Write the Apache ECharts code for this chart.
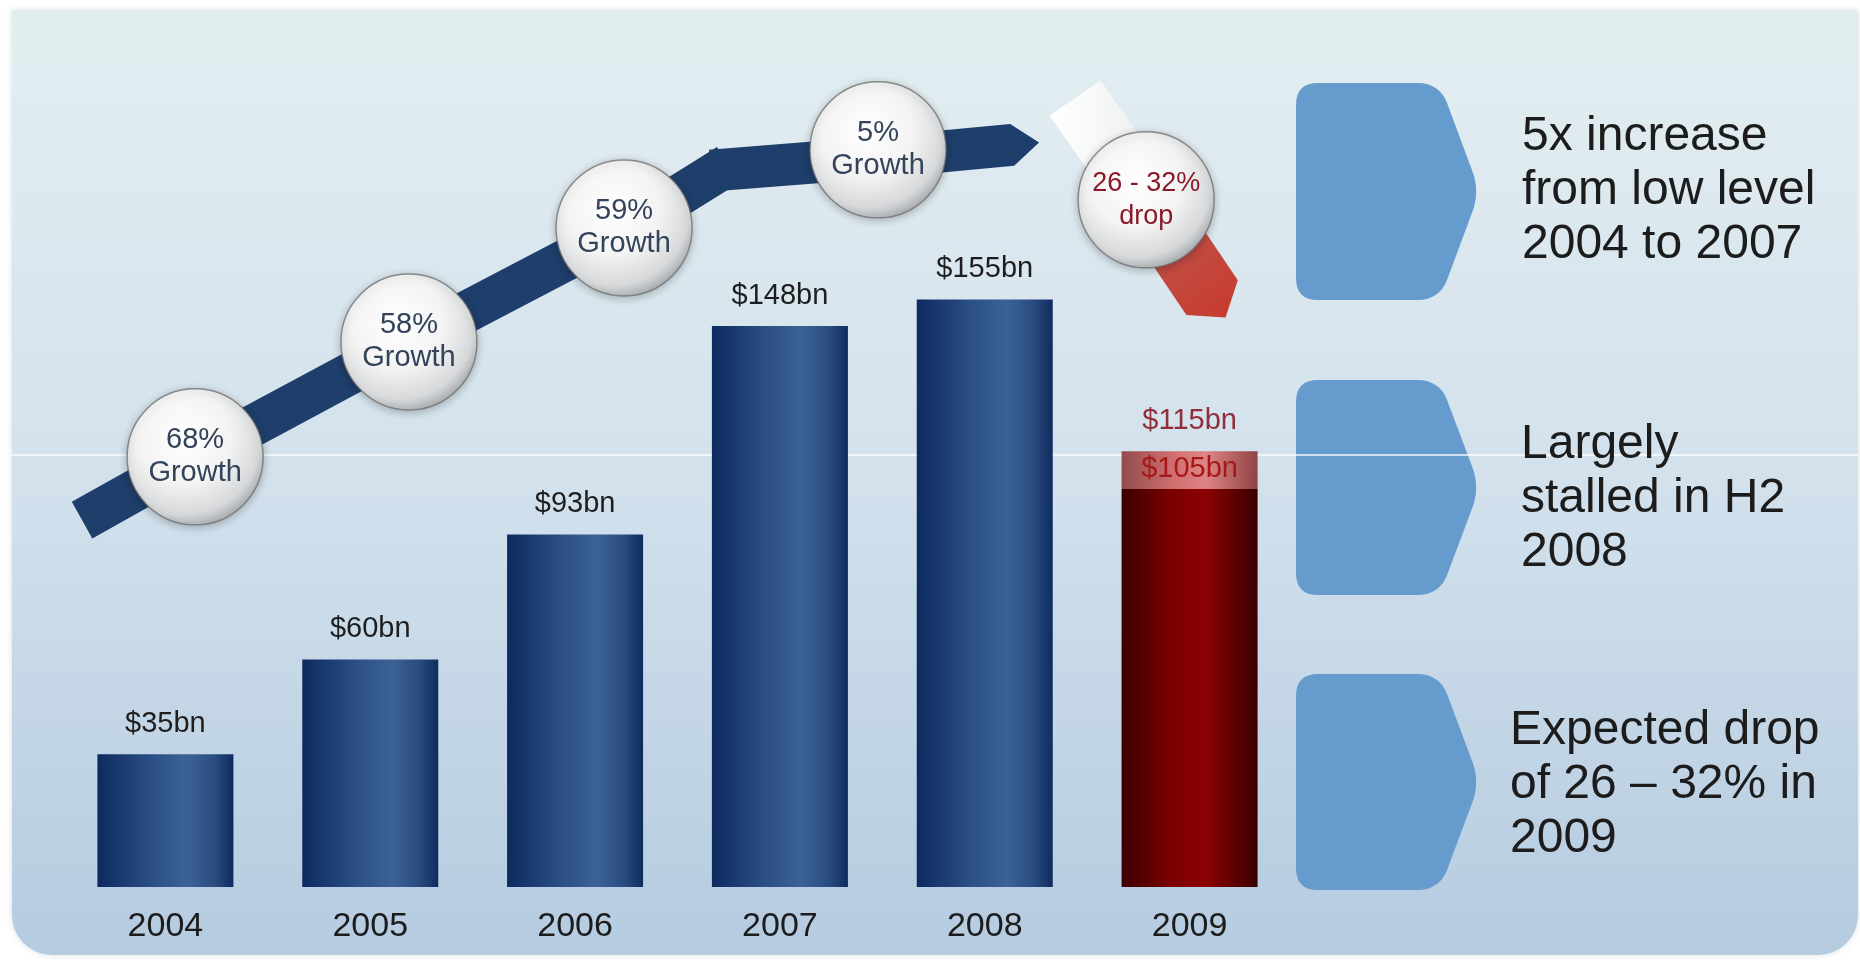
<!DOCTYPE html>
<html>
<head>
<meta charset="utf-8">
<script src="https://cdn.jsdelivr.net/npm/echarts@6/dist/echarts.min.js"></script>
<style>
  html, body { margin: 0; padding: 0; background: #ffffff; }
  #chart { width: 1860px; height: 960px; }
</style>
</head>
<body>
<div id="chart"></div>
<script>
// Annual values, $bn
const years = ['2004', '2005', '2006', '2007', '2008', '2009'];
const actual = [35, 60, 93, 148, 155, null];
const forecastLow = [null, null, null, null, null, 105];
const forecastHigh = [null, null, null, null, null, 115];

// Year-on-year callouts
const growthLabels = ['68%', '58%', '59%', '5%'];
const dropLabel = '26 - 32%';

// Commentary blocks on the right
const notes = [
  ['5x increase', 'from low level', '2004 to 2007'],
  ['Largely', 'stalled in H2', '2008'],
  ['Expected drop', 'of 26 \u2013 32% in', '2009']
];

// ---- layout (overlay axis: x in category-index units, y in $bn) ----
const growthPath = [[-0.407, 96.8], [0.145, 113.5], [1.189, 143.8], [2.244, 173.6],
                    [2.708, 189.2], [3.504, 192.6], [4.134, 195.8]];
const dropPath = [[4.441, 208.2], [4.788, 181.3], [5.11, 155.5]];
const ballAnchors = [[0.145, 113.5], [1.189, 143.8], [2.239, 173.9], [3.479, 194.5], [4.788, 181.3]];

const chart = echarts.init(document.getElementById('chart'));
const FONT = 'Liberation Sans, Arial, sans-serif';
const LG = echarts.graphic.LinearGradient;

const blueFill = new LG(0, 0, 1, 0, [
  { offset: 0, color: '#0d2a5f' }, { offset: 0.4, color: '#2b4f86' },
  { offset: 0.66, color: '#3c6295' }, { offset: 0.86, color: '#2a4c80' },
  { offset: 1, color: '#0e2b5e' }
]);
const darkRedFill = new LG(0, 0, 1, 0, [
  { offset: 0, color: '#3a0000' }, { offset: 0.35, color: '#7a0000' },
  { offset: 0.62, color: '#8c0202' }, { offset: 1, color: '#380000' }
]);
const pinkFill = new LG(0, 0, 1, 0, [
  { offset: 0, color: '#8c3a3a' }, { offset: 0.4, color: '#d26464' },
  { offset: 0.62, color: '#e07a7a' }, { offset: 1, color: '#883232' }
]);

function diff(a, b) { return a == null || b == null ? null : a - b; }

// Thick segmented band through the given points, optional pointed end
function bandChildren(api, path, width, tip, fills) {
  const pts = path.map(p => api.coord(p));
  const h = width / 2;
  const out = [];
  for (let i = 0; i < pts.length - 1; i++) {
    const a = pts[i], b = pts[i + 1];
    const dx = b[0] - a[0], dy = b[1] - a[1], len = Math.hypot(dx, dy);
    const ux = dx / len, uy = dy / len, nx = -uy, ny = ux;
    const last = i === pts.length - 2;
    const a0 = i === 0 ? a : [a[0] - ux * h * 0.45, a[1] - uy * h * 0.45];
    const b0 = last ? b : [b[0] + ux * h * 0.45, b[1] + uy * h * 0.45];
    const poly = [[a0[0] + nx * h, a0[1] + ny * h], [b0[0] + nx * h, b0[1] + ny * h]];
    if (last && tip) poly.push([b0[0] + ux * tip, b0[1] + uy * tip]);
    poly.push([b0[0] - nx * h, b0[1] - ny * h], [a0[0] - nx * h, a0[1] - ny * h]);
    out.push({ type: 'polygon', shape: { points: poly }, style: { fill: fills[Math.min(i, fills.length - 1)] } });
  }
  return out;
}

// Polygon outline with corners rounded by sampled quadratic curves
function roundedPoints(points, r) {
  const n = points.length;
  const out = [];
  for (let i = 0; i < n; i++) {
    const p = points[i], prev = points[(i - 1 + n) % n], next = points[(i + 1) % n];
    const v1 = [prev[0] - p[0], prev[1] - p[1]], l1 = Math.hypot(v1[0], v1[1]);
    const v2 = [next[0] - p[0], next[1] - p[1]], l2 = Math.hypot(v2[0], v2[1]);
    const rr = Math.min(r, l1 / 2, l2 / 2);
    const s = [p[0] + v1[0] / l1 * rr, p[1] + v1[1] / l1 * rr];
    const e = [p[0] + v2[0] / l2 * rr, p[1] + v2[1] / l2 * rr];
    for (let k = 0; k <= 8; k++) {
      const t = k / 8, m = 1 - t;
      out.push([m * m * s[0] + 2 * m * t * p[0] + t * t * e[0], m * m * s[1] + 2 * m * t * p[1] + t * t * e[1]]);
    }
  }
  return out;
}

const panelBoxes = [[1296, 83, 1480, 300], [1296, 380, 1480, 595], [1296, 674, 1480, 890]];
const noteTops = [110, 418, 704];
const noteLeft = [1522, 1521, 1510];

const graphics = [
  {
    type: 'rect', z: 0, silent: true,
    shape: { x: 12, y: 10, width: 1846, height: 945, r: [3, 3, 40, 40] },
    style: {
      fill: new LG(0, 0, 0, 1, [
        { offset: 0, color: '#e0eeee' }, { offset: 0.12, color: '#e0ebf0' },
        { offset: 0.5, color: '#d2e1ec' }, { offset: 1, color: '#b5cbe0' }
      ]),
      shadowBlur: 6, shadowColor: 'rgba(140,160,180,0.35)'
    }
  },
  { type: 'rect', z: 1, silent: true, shape: { x: 12, y: 454, width: 1846, height: 2 },
    style: { fill: 'rgba(255,255,255,0.7)' } }
];
panelBoxes.forEach(([x0, y0, x1, y1]) => {
  const xs = x0 + (x1 - x0) * 0.78, ym = (y0 + y1) / 2;
  graphics.push({
    type: 'polygon', z: 0.5, silent: true,
    shape: { points: roundedPoints([[x0, y0], [xs, y0], [x1, ym], [xs, y1], [x0, y1]], 22) },
    style: { fill: '#669bce' }
  });
});
notes.forEach((lines, i) => {
  graphics.push({
    type: 'text', z: 12, silent: true, x: noteLeft[i], y: noteTops[i],
    style: {
      text: lines.join('\n'), fill: '#1c1c1c', fontSize: 48, fontFamily: FONT,
      lineHeight: 54, verticalAlign: 'top', align: 'left'
    }
  });
});

const ballFill = new echarts.graphic.RadialGradient(0.42, 0.36, 0.68, [
  { offset: 0, color: '#ffffff' }, { offset: 0.5, color: '#f3f3f3' },
  { offset: 0.82, color: '#d6d8da' }, { offset: 1, color: '#a2a6aa' }
]);

const option = {
  animation: false,
  graphic: graphics,
  grid: { left: 63, right: 568, top: 129, bottom: 73, containLabel: false },
  xAxis: [
    {
      type: 'category', data: years,
      axisLine: { show: false }, axisTick: { show: false }, splitLine: { show: false },
      axisLabel: { color: '#1c1c1c', fontSize: 34, fontFamily: FONT, margin: 23 }
    },
    { type: 'value', min: -0.5, max: 5.5, show: false }
  ],
  yAxis: { type: 'value', min: 0, max: 200, show: false },
  series: [
    {
      type: 'bar', name: 'actual', stack: 'v', barWidth: 136, z: 2,
      data: actual.map(v => v == null ? '-' : v),
      itemStyle: { color: blueFill },
      label: {
        show: true, position: 'top', distance: 16, color: '#1e1e1e', fontSize: 29, fontFamily: FONT,
        formatter: p => '$' + p.value + 'bn'
      }
    },
    {
      type: 'bar', name: 'forecast low', stack: 'v', barWidth: 136, z: 2,
      data: forecastLow.map(v => v == null ? '-' : v),
      itemStyle: { color: darkRedFill },
      label: {
        show: true, position: 'top', distance: 6, color: '#a81818', fontSize: 29, fontFamily: FONT,
        formatter: p => '$' + p.value + 'bn'
      }
    },
    {
      type: 'bar', name: 'forecast range', stack: 'v', barWidth: 136, z: 1,
      data: forecastHigh.map((v, i) => { const d = diff(v, forecastLow[i]); return d == null ? '-' : d; }),
      itemStyle: { color: pinkFill, opacity: 0.9 },
      label: {
        show: true, position: 'top', distance: 16, color: '#8a1a26', fontSize: 29, fontFamily: FONT,
        formatter: p => '$' + forecastHigh[p.dataIndex] + 'bn'
      }
    },
    {
      type: 'custom', name: 'growth band', xAxisIndex: 1, z: 3, silent: true, clip: false,
      data: [[0, 0]],
      renderItem: (params, api) => ({
        type: 'group',
        children: bandChildren(api, growthPath, 42, 27, ['#1e3e6c'])
      })
    },
    {
      type: 'custom', name: 'drop band', xAxisIndex: 1, z: 3, silent: true, clip: false,
      data: [[0, 0]],
      renderItem: (params, api) => ({
        type: 'group',
        children: bandChildren(api, dropPath, 62, 24, [
          new LG(0, 0, 1, 0, [{ offset: 0, color: '#ffffff' }, { offset: 1, color: '#e8ecec' }]),
          new LG(0, 0, 1, 1, [{ offset: 0, color: '#a8443e' }, { offset: 0.6, color: '#c24a40' }, { offset: 1, color: '#c83a2c' }])
        ])
      })
    },
    {
      type: 'scatter', name: 'callouts', xAxisIndex: 1, z: 4, silent: true,
      symbol: 'circle', symbolSize: 136,
      itemStyle: {
        color: ballFill, opacity: 1, borderColor: 'rgba(110,110,110,0.75)', borderWidth: 1.5,
        shadowBlur: 8, shadowColor: 'rgba(0,0,0,0.25)', shadowOffsetY: 2
      },
      label: {
        show: true, position: 'inside', color: '#33445a', fontSize: 29, lineHeight: 33, fontFamily: FONT,
        formatter: p => p.dataIndex < growthLabels.length
          ? growthLabels[p.dataIndex] + '\nGrowth'
          : dropLabel + '\ndrop'
      },
      data: ballAnchors.map((p, i) => i < growthLabels.length
        ? { value: p }
        : { value: p, label: { color: '#8a1a2a', fontSize: 27 } })
    }
  ]
};

chart.setOption(option);
</script>
</body>
</html>
